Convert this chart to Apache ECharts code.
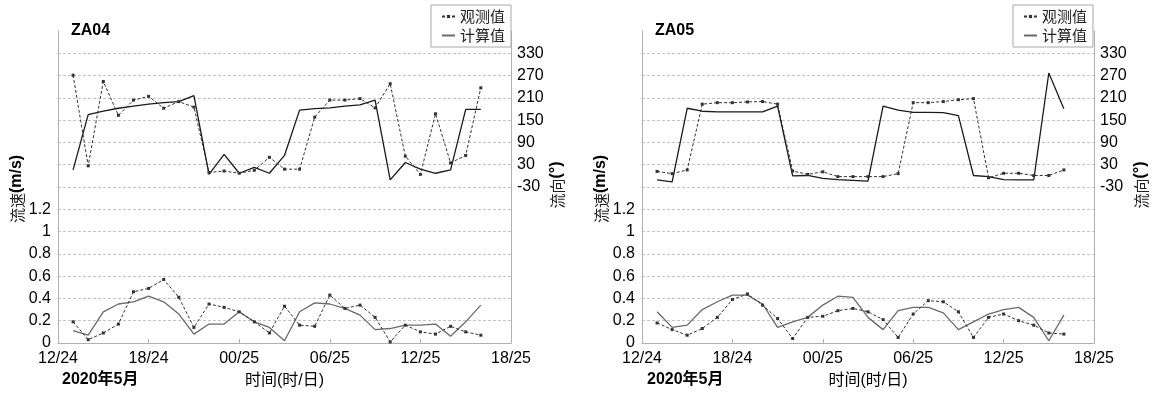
<!DOCTYPE html>
<html>
<head>
<meta charset="utf-8">
<script src="https://cdn.jsdelivr.net/npm/echarts@6/dist/echarts.min.js"></script>
<style>
  html, body { margin: 0; padding: 0; background: #fff; }
  #chart { width: 1155px; height: 394px; }
</style>
</head>
<body>
<div id="chart"></div>
<script>
// hours after 12:00 on the 24th
var hours = [1, 2, 3, 4, 5, 6, 7, 8, 9, 10, 11, 12, 13, 14, 15, 16, 17, 18, 19, 20, 21, 22, 23, 24, 25, 26, 27, 28];
var xTickLabels = ["12/24", "18/24", "00/25", "06/25", "12/25", "18/25"];
var speedTicks = [0, 0.2, 0.4, 0.6, 0.8, 1, 1.2];
var dirTicks = [-30, 30, 90, 150, 210, 270, 330];

// ZA04
var za04SpeedObs = [0.19, 0.03, 0.09, 0.17, 0.46, 0.49, 0.57, 0.41, 0.14, 0.35, 0.32, 0.28, 0.19, 0.09, 0.33, 0.16, 0.15, 0.43, 0.31, 0.34, 0.23, 0.01, 0.16, 0.10, 0.08, 0.15, 0.10, 0.07];
var za04SpeedCal = [0.11, 0.07, 0.28, 0.35, 0.37, 0.42, 0.37, 0.26, 0.08, 0.17, 0.17, 0.28, 0.19, 0.14, 0.02, 0.28, 0.36, 0.35, 0.31, 0.25, 0.12, 0.13, 0.16, 0.16, 0.17, 0.06, 0.19, 0.34];
var za04DirObs = [271, 27, 254, 163, 204, 214, 182, 200, 185, 9, 13, 7, 15, 50, 18, 18, 158, 204, 204, 208, 183, 248, 53, 4, 167, 35, 55, 237];
var za04DirCal = [16, 165, 174, 182, 188, 193, 197, 200, 216, 4, 58, 7, 23, 7, 55, 177, 181, 183, 188, 191, 204, -11, 36, 18, 7, 16, 179, 179];

// ZA05
var za05SpeedObs = [0.18, 0.12, 0.07, 0.13, 0.23, 0.39, 0.44, 0.34, 0.22, 0.04, 0.23, 0.24, 0.29, 0.31, 0.28, 0.21, 0.05, 0.26, 0.38, 0.37, 0.28, 0.05, 0.23, 0.26, 0.20, 0.16, 0.09, 0.08];
var za05SpeedCal = [0.28, 0.14, 0.16, 0.30, 0.37, 0.43, 0.43, 0.35, 0.14, 0.19, 0.23, 0.34, 0.42, 0.41, 0.23, 0.12, 0.29, 0.32, 0.32, 0.27, 0.12, 0.19, 0.26, 0.30, 0.32, 0.23, 0.02, 0.25];
var za05DirObs = [12, 6, 16, 193, 197, 197, 199, 200, 193, 13, 4, 11, -2, -2, -2, -2, 6, 197, 197, 200, 205, 208, -5, 7, 7, 1, 1, 16];
var za05DirCal = [-11, -16, 182, 174, 172, 172, 172, 172, 188, 0, 1, -7, -10, -12, -14, 188, 177, 171, 171, 170, 162, 1, -2, -10, -11, -11, 277, 181];

var numFont = "Liberation Sans, Arial, sans-serif";
var cjkFont = "Liberation Sans, Noto Sans CJK SC, sans-serif";

function pairs(vals) {
  return hours.map(function (h, i) { return [h, vals[i]]; });
}

function xAxisFor(gi) {
  return {
    type: "value", gridIndex: gi, min: 0, max: 30, interval: 6,
    name: "时间(时/日)", nameLocation: "middle", nameGap: 30,
    nameTextStyle: { fontFamily: cjkFont, fontSize: 16, color: "#000" },
    axisLine: { lineStyle: { color: "#b0b0b0" } },
    axisTick: { inside: true, length: 4, lineStyle: { color: "#b0b0b0" } },
    axisLabel: {
      fontFamily: numFont, fontSize: 16, color: "#000", margin: 8,
      formatter: function (v) { return xTickLabels[Math.round(v / 6)]; }
    },
    splitLine: { show: false }
  };
}

function speedAxis(gi) {
  return {
    type: "value", gridIndex: gi, position: "left", min: 0, max: 2.8, interval: 0.2,
    axisLine: { show: true, lineStyle: { color: "#b0b0b0" } },
    axisTick: { show: false },
    axisLabel: {
      fontFamily: numFont, fontSize: 16, color: "#000", margin: 7,
      customValues: speedTicks
    },
    splitLine: {
      show: true, showMinLine: false, showMaxLine: false,
      lineStyle: { color: "#c4c4c4", type: [3, 2], width: 1 }
    }
  };
}

function dirAxis(gi) {
  return {
    type: "value", gridIndex: gi, position: "right", min: -450, max: 390, interval: 30,
    axisLine: { show: true, lineStyle: { color: "#b0b0b0" } },
    axisTick: { show: false },
    axisLabel: {
      fontFamily: numFont, fontSize: 16, color: "#000", margin: 6,
      customValues: dirTicks
    },
    splitLine: { show: false }
  };
}

function obsSeries(xi, yi, vals) {
  return {
    name: "观测值", type: "line", xAxisIndex: xi, yAxisIndex: yi,
    data: pairs(vals), symbol: "rect", symbolSize: 3, showSymbol: true,
    lineStyle: { color: "#333", width: 1, type: [3, 2] },
    itemStyle: { color: "#333" }, animation: false, z: 3
  };
}

function calSeries(xi, yi, vals, color) {
  return {
    name: "计算值", type: "line", xAxisIndex: xi, yAxisIndex: yi,
    data: pairs(vals), symbol: "none",
    lineStyle: { color: color, width: 1.3 },
    itemStyle: { color: color }, animation: false, z: 2
  };
}

function legendFor(right) {
  return {
    orient: "vertical", right: right, top: 5,
    data: [
      { name: "观测值" },
      { name: "计算值", itemStyle: { opacity: 0 } }
    ],
    itemWidth: 13, itemHeight: 4, itemGap: 4,
    padding: [4, 6, 4, 10],
    borderColor: "#a8a8a8", borderWidth: 1,
    textStyle: { fontFamily: "Noto Sans CJK SC", fontSize: 15, color: "#222" },
    selectedMode: false
  };
}

function vText(x, y, main, unit) {
  return {
    type: "text", x: x, y: y, rotation: Math.PI / 2,
    style: {
      text: "{a|" + main + "}{b|" + unit + "}",
      align: "center", verticalAlign: "middle",
      rich: {
        a: { fontFamily: "Noto Sans CJK SC", fontSize: 15, fill: "#222" },
        b: { fontFamily: numFont, fontSize: 16, fontWeight: "bold", fill: "#000" }
      }
    }
  };
}

function plainText(x, y, text, size, bold) {
  return {
    type: "text", x: x, y: y,
    style: {
      text: text, fontFamily: cjkFont, fontSize: size, fontWeight: bold ? "bold" : "normal",
      fill: "#000", align: "left", verticalAlign: "middle"
    }
  };
}

var chart = echarts.init(document.getElementById("chart"), null, { renderer: "canvas" });
var option = {
  animation: false,
  backgroundColor: "#fff",
  grid: [
    { left: 58, right: 644, top: 31, bottom: 50 },
    { left: 642, right: 61, top: 31, bottom: 50 }
  ],
  legend: [legendFor(644), legendFor(62)],
  xAxis: [xAxisFor(0), xAxisFor(1)],
  yAxis: [speedAxis(0), dirAxis(0), speedAxis(1), dirAxis(1)],
  series: [
    obsSeries(0, 0, za04SpeedObs),
    calSeries(0, 0, za04SpeedCal, "#6a6a6a"),
    obsSeries(0, 1, za04DirObs),
    calSeries(0, 1, za04DirCal, "#1a1a1a"),
    obsSeries(1, 2, za05SpeedObs),
    calSeries(1, 2, za05SpeedCal, "#6a6a6a"),
    obsSeries(1, 3, za05DirObs),
    calSeries(1, 3, za05DirCal, "#1a1a1a")
  ],
  graphic: [
    plainText(71, 31, "ZA04", 16, true),
    plainText(655, 31, "ZA05", 16, true),
    plainText(62, 380, "2020年5月", 16, true),
    plainText(647, 380, "2020年5月", 16, true),
    vText(17, 189, "流速", "(m/s)"),
    vText(557, 185, "流向", "(°)"),
    vText(601, 189, "流速", "(m/s)"),
    vText(1141, 185, "流向", "(°)")
  ]
};
chart.setOption(option);
</script>
</body>
</html>
